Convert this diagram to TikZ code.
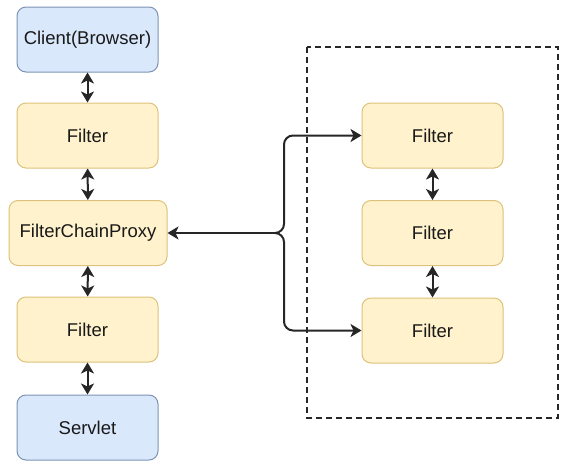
\documentclass[tikz,border=0pt]{standalone}
\usepackage{fontspec}
\setmainfont{Liberation Sans}
\usetikzlibrary{arrows.meta}
\definecolor{bluefill}{HTML}{DAE8FC}
\definecolor{blueline}{HTML}{7C93B5}
\definecolor{yellowfill}{HTML}{FFF2CC}
\definecolor{yellowline}{HTML}{DCC27A}
\tikzset{
  box/.style={draw, line width=1pt, rounded corners=9pt, minimum width=141pt, minimum height=65pt, inner sep=0pt, font=\fontsize{18.5}{22}\selectfont, text=black!90},
  bluebox/.style={box, fill=bluefill, draw=blueline},
  yellowbox/.style={box, fill=yellowfill, draw=yellowline},
  link/.style={line width=2pt, black!85, {Stealth[length=11pt,width=13pt,inset=3pt]}-{Stealth[length=11pt,width=13pt,inset=3pt]}},
  push/.style={line width=2pt, black!85, -{Stealth[length=11pt,width=13pt,inset=3pt]}, rounded corners=9pt}
}

\begin{document}
\begin{tikzpicture}[x=1pt, y=-1pt]
		%%%%% START %%%%%
		\useasboundingbox (0, 0) rectangle (566, 466);

		% chain on the left
		\node[bluebox] (client) at (87.5, 39.5) {Client(Browser)};
		\node[yellowbox] (filtera) at (87.5, 135.5) {Filter};
		\node[yellowbox, minimum width=158pt] (proxy) at (88, 233) {FilterChainProxy};
		\node[yellowbox] (filterb) at (87.5, 329.5) {Filter};
		\node[bluebox] (servlet) at (87.5, 427.5) {Servlet};

		\draw[link] (client) -- (filtera);
		\draw[link] (filtera) -- (proxy);
		\draw[link] (proxy) -- (filterb);
		\draw[link] (filterb) -- (servlet);

		% security filter chain
		\draw[line width=1.6pt, black!85, dash pattern=on 6pt off 4pt] (307, 47) rectangle (558, 418);
		\node[yellowbox] (inner1) at (432.5, 135.5) {Filter};
		\node[yellowbox] (inner2) at (432.5, 233) {Filter};
		\node[yellowbox] (inner3) at (432.5, 330.5) {Filter};

		\draw[link] (inner1) -- (inner2);
		\draw[link] (inner2) -- (inner3);

		% branch from the proxy
		\coordinate (split) at (275, 233);
		\coordinate (uptop) at (284, 135.5);
		\coordinate (downbot) at (284, 330.5);
		\draw[line width=2pt, black!85, {Stealth[length=11pt,width=13pt,inset=3pt]}-] (proxy) -- (split);
		\draw[push] (split) -| (uptop) -- (inner1);
		\draw[push] (split) -| (downbot) -- (inner3);

		%%%%% END %%%%%
	\end{tikzpicture}
\end{document}
